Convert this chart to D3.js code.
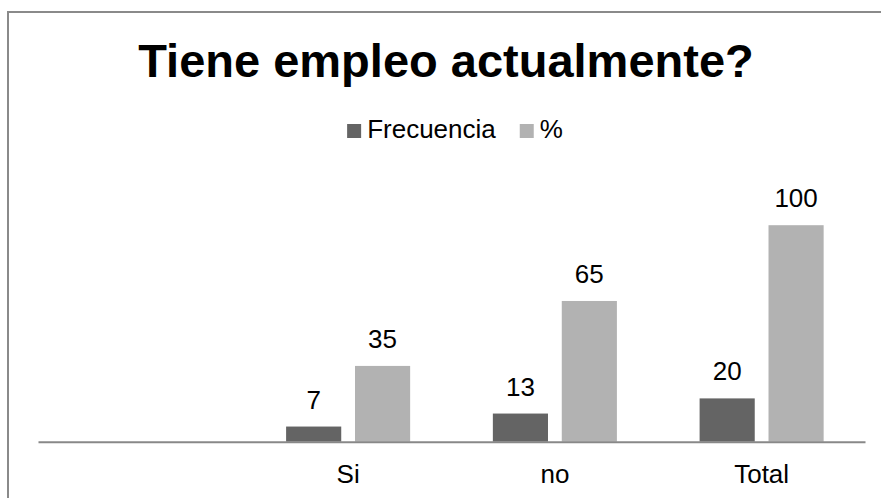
<!DOCTYPE html>
<html>
<head>
<meta charset="utf-8">
<script src="https://cdn.jsdelivr.net/npm/d3@7"></script>
<style>
  body { margin: 0; background: #fff; overflow: hidden; }
  svg { display: block; font-family: "Liberation Sans", Arial, sans-serif; }
</style>
</head>
<body>
<svg width="881" height="498"></svg>
<script>
// data
var categories = ["", "Si", "no", "Total"];
var seriesNames = ["Frecuencia", "%"];
var frecuencia = [null, 7, 13, 20];
var porcentaje = [null, 35, 65, 100];
var colors = ["#646464", "#b2b2b2"];

var svg = d3.select("svg");

// outer chart frame: only the left and top edges are inside the window
svg.append("path")
  .attr("d", "M8,498V12H881")
  .attr("fill", "none")
  .attr("stroke", "#8a8a8a")
  .attr("stroke-width", 2);

// title
svg.append("text")
  .attr("x", 446)
  .attr("y", 77)
  .attr("text-anchor", "middle")
  .attr("font-size", "47px")
  .attr("font-weight", "bold")
  .attr("fill", "#000")
  .text("Tiene empleo actualmente?");

var x0 = d3.scaleBand().domain(categories).range([38, 865]).padding(0);
var x1 = d3.scaleBand().domain(seriesNames).range([0, x0.bandwidth()])
  .paddingInner(0.2).paddingOuter(0.6);
var y = d3.scaleLinear().domain([0, 120]).range([441.7, 181.9]);

var rows = categories.map(function(c, i) {
  return {cat: c, values: [
    {name: seriesNames[0], v: frecuencia[i], color: colors[0]},
    {name: seriesNames[1], v: porcentaje[i], color: colors[1]}
  ]};
});

var g = svg.append("g");

var groups = g.selectAll(".grp")
  .data(rows)
  .enter().append("g")
  .attr("class", "grp")
  .attr("transform", function(d) { return "translate(" + x0(d.cat) + ",0)"; });

var bars = groups.selectAll("rect")
  .data(function(d) { return d.values.filter(function(e) { return e.v != null; }); })
  .enter();

bars.append("rect")
  .attr("x", function(d) { return x1(d.name); })
  .attr("y", function(d) { return y(d.v); })
  .attr("width", x1.bandwidth())
  .attr("height", function(d) { return y(0) - y(d.v); })
  .attr("fill", function(d) { return d.color; });

bars.append("text")
  .attr("x", function(d) { return x1(d.name) + x1.bandwidth() / 2; })
  .attr("y", function(d) { return y(d.v) - 18; })
  .attr("text-anchor", "middle")
  .attr("font-size", "26px")
  .attr("fill", "#000")
  .text(function(d) { return d.v; });

// category axis
var xAxis = g.append("g")
  .attr("transform", "translate(0," + y(0) + ")")
  .call(d3.axisBottom(x0).tickSize(0).tickPadding(0));
xAxis.select(".domain")
  .attr("stroke", "#888")
  .attr("stroke-width", 2);
xAxis.selectAll("text")
  .attr("font-size", "26px")
  .attr("font-family", "Liberation Sans, Arial, sans-serif")
  .attr("fill", "#000")
  .attr("dy", null)
  .attr("y", 41);

// legend
var legend = svg.append("g");
var lx = 0;
seriesNames.forEach(function(name, i) {
  var item = legend.append("g").attr("transform", "translate(" + lx + ",0)");
  item.append("rect")
    .attr("x", 0).attr("y", 124)
    .attr("width", 14).attr("height", 14)
    .attr("fill", colors[i]);
  var t = item.append("text")
    .attr("x", 20).attr("y", 137.5)
    .attr("font-size", "26px")
    .attr("fill", "#000")
    .text(name);
  lx += 20 + t.node().getComputedTextLength() + 24;
});
var lw = lx - 24;
legend.attr("transform", "translate(" + (455 - lw / 2) + ",0)");
</script>
</body>
</html>
